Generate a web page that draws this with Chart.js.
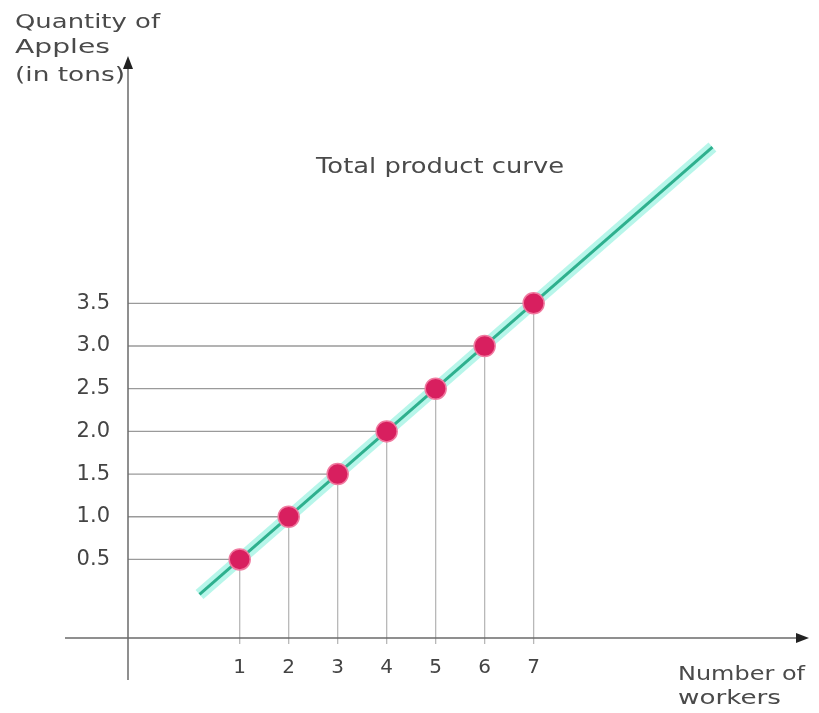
<!DOCTYPE html>
<html><head><meta charset="utf-8">
<script src="https://cdn.jsdelivr.net/npm/chart.js@4"></script>
<style>html,body{margin:0;padding:0;background:#fff}#wrap{width:819px;height:713px}</style>
</head><body><div id="wrap"><canvas id="c" width="819" height="713"></canvas></div>
<script>
const workers = [1, 2, 3, 4, 5, 6, 7];
const apples = [0.5, 1.0, 1.5, 2.0, 2.5, 3.0, 3.5];
const xTickLabels = ['1', '2', '3', '4', '5', '6', '7'];
const yTickLabels = ['0.5', '1.0', '1.5', '2.0', '2.5', '3.0', '3.5'];
const curveX = [0.18, 10.65];
const curveY = [0.09, 5.33];
const curveTitle = 'Total product curve';
const yTitle = ['Quantity of', 'Apples', '(in tons)'];
const xTitle = ['Number of', 'workers'];

const points = workers.map((w, i) => ({x: w, y: apples[i]}));
const curve = curveX.map((x, i) => ({x: x, y: curveY[i]}));

function stretchText(ctx, text, x, y, targetW) {
  const w = ctx.measureText(text).width;
  const sx = targetW / w;
  ctx.save();
  ctx.translate(x, y);
  ctx.scale(sx, 1);
  ctx.fillText(text, 0, 0);
  ctx.restore();
}

const decor = {
  id: 'decor',
  beforeDatasetsDraw(chart) {
    const {ctx, chartArea, scales} = chart;
    const xs = scales.x, ys = scales.y;
    ctx.save();
    points.forEach(p => {
      const px = xs.getPixelForValue(p.x), py = ys.getPixelForValue(p.y);
      ctx.strokeStyle = '#9a9a9a'; ctx.lineWidth = 1.3;
      ctx.beginPath(); ctx.moveTo(chartArea.left, py); ctx.lineTo(px, py); ctx.stroke();
      ctx.strokeStyle = '#b8b8b8'; ctx.lineWidth = 1.3;
      ctx.beginPath(); ctx.moveTo(px, py); ctx.lineTo(px, chartArea.bottom + 6); ctx.stroke();
    });
    ctx.strokeStyle = '#6a6a6a'; ctx.lineWidth = 1.5;
    ctx.beginPath(); ctx.moveTo(chartArea.left, chartArea.top + 4); ctx.lineTo(chartArea.left, chartArea.bottom + 42); ctx.stroke();
    ctx.beginPath(); ctx.moveTo(65, chartArea.bottom); ctx.lineTo(chartArea.right - 4, chartArea.bottom); ctx.stroke();
    ctx.fillStyle = '#222';
    ctx.beginPath(); ctx.moveTo(chartArea.left, chartArea.top - 4); ctx.lineTo(chartArea.left - 5, chartArea.top + 9); ctx.lineTo(chartArea.left + 5, chartArea.top + 9); ctx.closePath(); ctx.fill();
    ctx.beginPath(); ctx.moveTo(chartArea.right + 2, chartArea.bottom); ctx.lineTo(chartArea.right - 11, chartArea.bottom - 5); ctx.lineTo(chartArea.right - 11, chartArea.bottom + 5); ctx.closePath(); ctx.fill();
    ctx.restore();
  },
  afterDraw(chart) {
    const {ctx} = chart;
    ctx.save();
    ctx.fillStyle = '#4a4a4a';
    ctx.textBaseline = 'alphabetic';
    ctx.textAlign = 'left';
    ctx.font = '21px "DejaVu Sans"';
    stretchText(ctx, curveTitle, 316, 173, 248);
    ctx.font = '19px "DejaVu Sans"';
    stretchText(ctx, yTitle[0], 15, 28, 145);
    stretchText(ctx, yTitle[1], 15, 53, 95);
    stretchText(ctx, yTitle[2], 15, 81, 110);
    stretchText(ctx, xTitle[0], 678, 680, 127);
    stretchText(ctx, xTitle[1], 678, 704, 103);
    ctx.restore();
  }
};

new Chart(document.getElementById('c'), {
  type: 'scatter',
  data: {
    datasets: [
      {type: 'line', data: curve, borderColor: 'rgba(175,245,232,0.9)', borderWidth: 12, pointRadius: 0, clip: false, order: 3},
      {type: 'line', data: curve, borderColor: '#2eb08e', borderWidth: 3, pointRadius: 0, clip: false, order: 2},
      {data: points, backgroundColor: '#d81f5f', borderColor: '#f07aa0', borderWidth: 1.5, pointRadius: 10.5, pointHoverRadius: 10.5, clip: false, order: 1}
    ]
  },
  options: {
    responsive: false,
    animation: false,
    devicePixelRatio: 1,
    layout: {padding: {top: 60, right: 9, left: 0, bottom: 0}},
    plugins: {legend: {display: false}, tooltip: {enabled: false}},
    scales: {
      x: {
        type: 'linear', min: -1.28, max: 12.58,
        afterBuildTicks: s => { s.ticks = workers.map(v => ({value: v})); },
        afterFit: s => { s.height = 75; },
        grid: {display: false}, border: {display: false},
        ticks: {autoSkip: false, maxRotation: 0, padding: 10, color: '#444', font: {family: 'DejaVu Sans', size: 20},
          callback: v => xTickLabels[workers.indexOf(v)]}
      },
      y: {
        type: 'linear', min: -0.42, max: 6.35,
        afterBuildTicks: s => { s.ticks = apples.map(v => ({value: v})); },
        afterFit: s => { s.width = 128; },
        grid: {display: false}, border: {display: false},
        ticks: {autoSkip: false, padding: 10, color: '#444', font: {family: 'DejaVu Sans', size: 21},
          callback: v => yTickLabels[apples.indexOf(v)]}
      }
    }
  },
  plugins: [decor]
});
</script>
</body></html>
